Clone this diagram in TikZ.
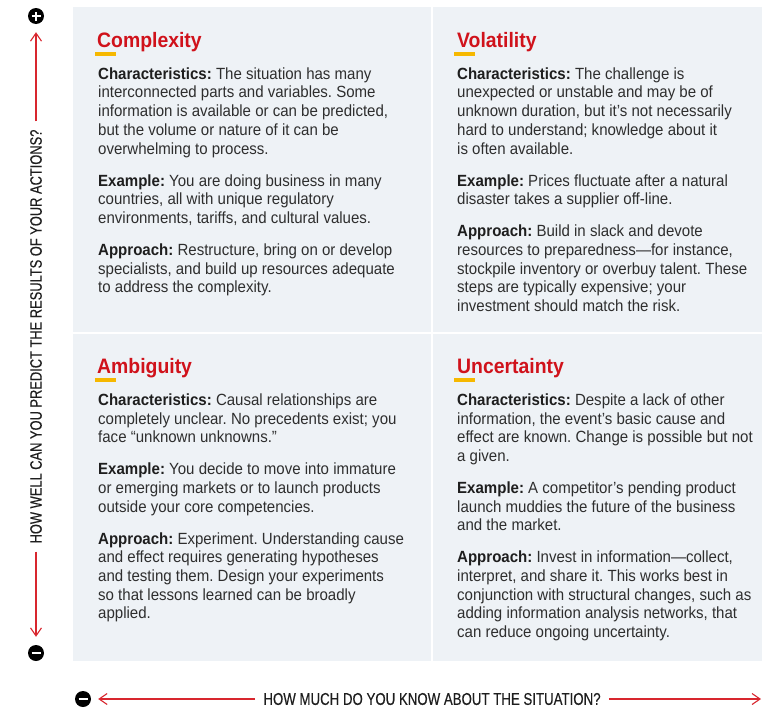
\documentclass[tikz,border=0pt]{standalone}
\usepackage{fontspec}
\setmainfont[FakeStretch=0.928]{Liberation Sans}
\newfontfamily\axisfont[FakeStretch=0.78, FakeBold=0.4]{Liberation Sans}
\usetikzlibrary{arrows.meta}
\definecolor{hbrred}{HTML}{D0121B}
\definecolor{hbrgold}{HTML}{F6B800}
\definecolor{panelfill}{HTML}{EEF2F6}
\definecolor{bodytxt}{HTML}{2E2E2E}
\definecolor{headtxt}{HTML}{1E1E1E}
\definecolor{axisred}{HTML}{D8262E}
\newcommand\qhead[1]{{\bfseries\color{headtxt}#1}}
\tikzset{
  quadtitle/.style={anchor=base west, inner sep=0pt, text=hbrred,
    font=\fontsize{20.9}{23}\selectfont\bfseries},
  quadbody/.style={anchor=north west, inner sep=0pt, align=left, text=bodytxt,
    font=\fontsize{16.2}{18.7}\selectfont\frenchspacing},
  axislbl/.style={inner xsep=8pt, inner ysep=0pt, text=headtxt},
  axisarrow/.style={draw=axisred, line width=1.1pt,
    -{Straight Barb[length=8pt, width=11pt, line width=1.1pt]}},
  signdot/.style={circle, fill=black, minimum size=16pt, inner sep=0pt},
  signbar/.style={draw=white, line width=2.6pt}
}
\begin{document}
\begin{tikzpicture}[x=1pt, y=-1pt]
\useasboundingbox (0,0) rectangle (762,707);

% quadrant panels
\fill[panelfill] (73,7) rectangle (431,332);
\fill[panelfill] (433,7) rectangle (762,332);
\fill[panelfill] (73,334) rectangle (431,661);
\fill[panelfill] (433,334) rectangle (762,661);

% Complexity
\node[quadtitle] (t1) at (97,47) {Complexity};
\fill[hbrgold] ([shift={(-2pt,-5pt)}]t1.base west) rectangle ++(21,4);
\node[quadbody] (b1) at (98,66) {\strut\qhead{Characteristics:} The situation has many\\
interconnected parts and variables. Some\\
information is available or can be predicted,\\
but the volume or nature of it can be\\
overwhelming to process.\\[13.3pt]
\qhead{Example:} You are doing business in many\\
countries, all with unique regulatory\\
environments, tariffs, and cultural values.\\[13.3pt]
\qhead{Approach:} Restructure, bring on or develop\\
specialists, and build up resources adequate\\
to address the complexity.};

% Volatility
\node[quadtitle] (t2) at (457,47) {Volatility};
\fill[hbrgold] ([shift={(-3pt,-5pt)}]t2.base west) rectangle ++(21,4);
\node[quadbody] (b2) at (457,66) {\strut\qhead{Characteristics:} The challenge is\\
unexpected or unstable and may be of\\
unknown duration, but it’s not necessarily\\
hard to understand; knowledge about it\\
is often available.\\[13.3pt]
\qhead{Example:} Prices fluctuate after a natural\\
disaster takes a supplier off-line.\\[13.3pt]
\qhead{Approach:} Build in slack and devote\\
resources to preparedness—for instance,\\
stockpile inventory or overbuy talent. These\\
steps are typically expensive; your\\
investment should match the risk.};

% Ambiguity
\node[quadtitle] (t3) at (97,373) {Ambiguity};
\fill[hbrgold] ([shift={(-2pt,-5pt)}]t3.base west) rectangle ++(21,4);
\node[quadbody] (b3) at (98,392) {\strut\qhead{Characteristics:} Causal relationships are\\
completely unclear. No precedents exist; you\\
face “unknown unknowns.”\\[13.3pt]
\qhead{Example:} You decide to move into immature\\
or emerging markets or to launch products\\
outside your core competencies.\\[13.3pt]
\qhead{Approach:} Experiment. Understanding cause\\
and effect requires generating hypotheses\\
and testing them. Design your experiments\\
so that lessons learned can be broadly\\
applied.};

% Uncertainty
\node[quadtitle] (t4) at (457,373) {Uncertainty};
\fill[hbrgold] ([shift={(-3pt,-5pt)}]t4.base west) rectangle ++(21,4);
\node[quadbody] (b4) at (457,392) {\strut\qhead{Characteristics:} Despite a lack of other\\
information, the event’s basic cause and\\
effect are known. Change is possible but not\\
a given.\\[13.3pt]
\qhead{Example:} A competitor’s pending product\\
launch muddies the future of the business\\
and the market.\\[13.3pt]
\qhead{Approach:} Invest in information—collect,\\
interpret, and share it. This works best in\\
conjunction with structural changes, such as\\
adding information analysis networks, that\\
can reduce ongoing uncertainty.};

% plus / minus signs
\node[signdot] (plus) at (36,16) {};
\draw[signbar] ([xshift=-4.5pt]plus.center) -- ([xshift=4.5pt]plus.center);
\draw[signbar] ([yshift=-4.5pt]plus.center) -- ([yshift=4.5pt]plus.center);
\node[signdot] (minusv) at (36,653) {};
\draw[signbar] ([xshift=-4.5pt]minusv.center) -- ([xshift=4.5pt]minusv.center);
\node[signdot] (minush) at (83,699) {};
\draw[signbar] ([xshift=-4.5pt]minush.center) -- ([xshift=4.5pt]minush.center);

% axis labels
\node[axislbl, rotate=90, font=\axisfont\fontsize{16.5}{18}\selectfont] (vlab) at (36,336.5)
  {HOW WELL CAN YOU PREDICT THE RESULTS OF YOUR ACTIONS?};
\node[axislbl, font=\axisfont\fontsize{17}{18}\selectfont] (hlab) at (432,699)
  {HOW MUCH DO YOU KNOW ABOUT THE SITUATION?};
\coordinate (hend) at (761,699);

% axis arrows
\draw[axisarrow, shorten >=8pt] (vlab.east) -- (plus.south);
\draw[axisarrow, shorten >=8pt] (vlab.west) -- (minusv.north);
\draw[axisarrow, shorten >=7pt] (hlab.west) -- (minush.east);
\draw[axisarrow] (hlab.east) -- (hend);
\end{tikzpicture}
\end{document}
